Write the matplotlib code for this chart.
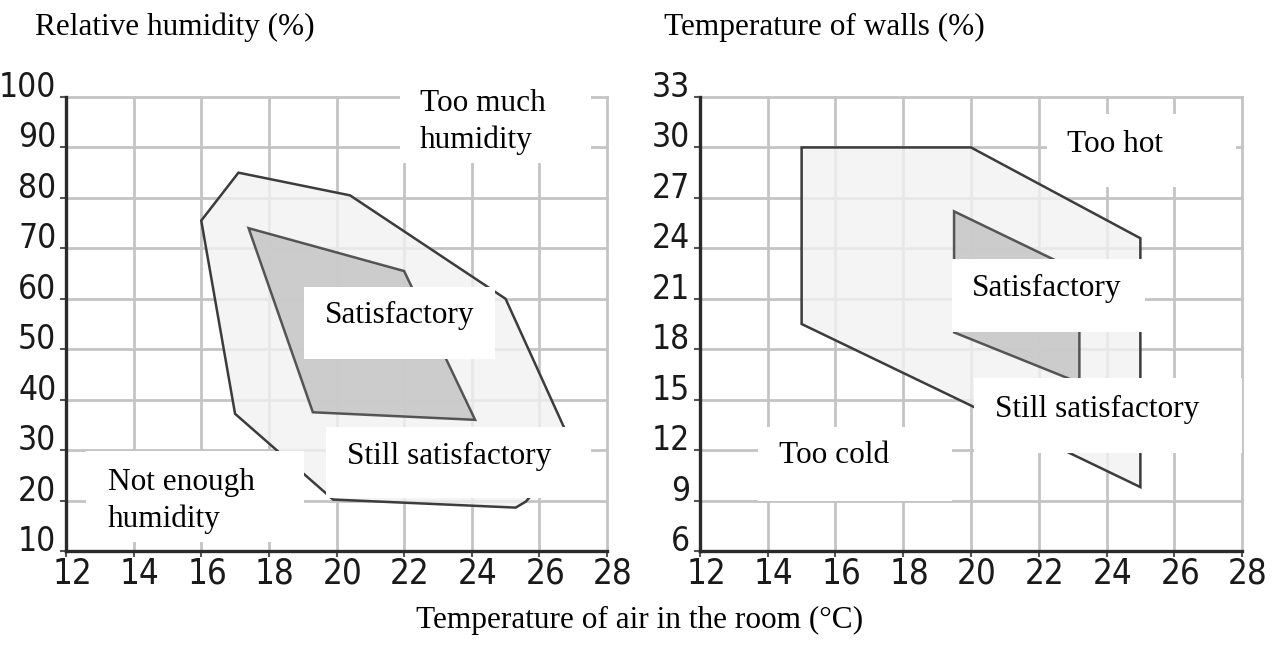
import matplotlib
matplotlib.use("Agg")
import matplotlib.pyplot as plt
from matplotlib.patches import Polygon, Rectangle
from matplotlib.transforms import ScaledTranslation

# humidity chart (x = air temperature, y = relative humidity)
hum_outer_x = [16.0, 17.1, 20.4, 25.0, 27.0, 25.6, 25.3, 19.9, 17.0]
hum_outer_y = [75.5, 85.0, 80.5, 60.0, 30.5, 19.8, 18.6, 20.2, 37.2]
hum_inner_x = [17.4, 22.0, 24.1, 19.3]
hum_inner_y = [74.0, 65.5, 36.0, 37.5]
hum_ticks = [10, 20, 30, 40, 50, 60, 70, 80, 90, 100]

# wall temperature chart
wall_outer_x = [15.0, 20.0, 25.0, 25.0, 15.0]
wall_outer_y = [30.0, 30.0, 24.6, 9.8, 19.5]
wall_inner_x = [19.5, 23.2, 23.2, 19.5]
wall_inner_y = [26.2, 22.6, 16.0, 19.0]
wall_ticks = [6, 9, 12, 15, 18, 21, 24, 27, 30, 33]

x_ticks = [12, 14, 16, 18, 20, 22, 24, 26, 28]

# label boxes: (x0, x1, y0, y1) in data units, text, text anchor x, y, ha
hum_labels = [
    ((21.87, 27.52, 87.0, 103.1), "Too much\nhumidity", 22.47, 95.0, "left"),
    ((19.04, 24.69, 48.1, 62.3), "Satisfactory", 21.87, 56.6, "center"),
    ((19.69, 27.53, 20.6, 34.6), "Still satisfactory", 20.3, 28.8, "left"),
    ((12.59, 19.04, 11.8, 29.8), "Not enough\nhumidity", 13.23, 20.0, "left"),
]
wall_labels = [
    ((22.23, 27.82, 27.66, 31.99), "Too hot", 22.83, 30.15, "left"),
    ((19.43, 25.14, 19.04, 23.39), "Satisfactory", 22.23, 21.6, "center"),
    ((20.10, 28.00, 11.85, 16.26), "Still satisfactory", 20.71, 14.4, "left"),
    ((13.71, 19.44, 8.97, 13.39), "Too cold", 14.33, 11.65, "left"),
]

serif = ["Liberation Serif", "DejaVu Serif"]

fig = plt.figure(figsize=(12.84, 6.46), dpi=100)
ax1 = fig.add_axes([66 / 1284, 1 - 551 / 646, 541 / 1284, 454 / 646])
ax2 = fig.add_axes([700 / 1284, 1 - 551 / 646, 542 / 1284, 454 / 646])


def draw_panel(ax, ox, oy, ix, iy, yticks, labels):
    ax.set_xlim(12, 28)
    ax.set_ylim(yticks[0], yticks[-1])
    ax.set_xticks(x_ticks)
    ax.set_yticks(yticks)
    ax.grid(True, color="#c4c4c4", lw=2.0, zorder=0)
    ax.set_axisbelow(True)
    for gl in ax.get_xgridlines() + ax.get_ygridlines():
        gl.set_clip_on(False)
    for s in ["top", "right"]:
        ax.spines[s].set_visible(False)
    for s in ["left", "bottom"]:
        ax.spines[s].set_color("#2a2a2a")
        ax.spines[s].set_linewidth(2.4)
        ax.spines[s].set_zorder(6)

    ax.add_patch(Polygon(list(zip(ox, oy)), closed=True, fc="#f2f2f2", alpha=0.78,
                         ec="none", zorder=2))
    ax.add_patch(Polygon(list(zip(ox, oy)), closed=True, fill=False,
                         ec="#3c3c3c", lw=1.8, zorder=3))
    ax.add_patch(Polygon(list(zip(ix, iy)), closed=True, fc="#c6c6c6", alpha=0.85,
                         ec="#3c3c3c", lw=1.8, zorder=4))

    for (x0, x1, y0, y1), txt, tx, ty, ha in labels:
        ax.add_patch(Rectangle((x0, y0), x1 - x0, y1 - y0, fc="white", ec="none",
                               zorder=7, clip_on=False))
        ax.text(tx, ty, txt, ha=ha, va="center", family=serif, fontsize=22.5,
                linespacing=1.33, zorder=8, clip_on=False)

    ax.tick_params(axis="both", length=4, width=1.5, color="#555555")
    ax.tick_params(axis="x", pad=0)
    ax.tick_params(axis="y", pad=3)
    for lab in ax.get_xticklabels():
        lab.set_family("DejaVu Sans")
        lab.set_fontstretch("condensed")
        lab.set_fontsize(25)
        lab.set_color("#1a1a1a")
        lab.set_transform(lab.get_transform() + ScaledTranslation(6 / 100, 0, fig.dpi_scale_trans))
    for lab in ax.get_yticklabels():
        lab.set_family("DejaVu Sans")
        lab.set_fontstretch("condensed")
        lab.set_fontsize(24)
        lab.set_color("#1a1a1a")
        lab.set_transform(lab.get_transform() + ScaledTranslation(0, 13 / 100, fig.dpi_scale_trans))


draw_panel(ax1, hum_outer_x, hum_outer_y, hum_inner_x, hum_inner_y, hum_ticks, hum_labels)
draw_panel(ax2, wall_outer_x, wall_outer_y, wall_inner_x, wall_inner_y, wall_ticks, wall_labels)

fig.text(35 / 1284, 1 - 35 / 646, "Relative humidity (%)", family=serif, fontsize=22.5,
         va="baseline", ha="left")
fig.text(664 / 1284, 1 - 35 / 646, "Temperature of walls (%)", family=serif, fontsize=22.5,
         va="baseline", ha="left")
fig.text(640 / 1284, 1 - 628 / 646, "Temperature of air in the room (°C)", family=serif,
         fontsize=22.5, va="baseline", ha="center")

fig.savefig("out.png", dpi=100, facecolor="white")
